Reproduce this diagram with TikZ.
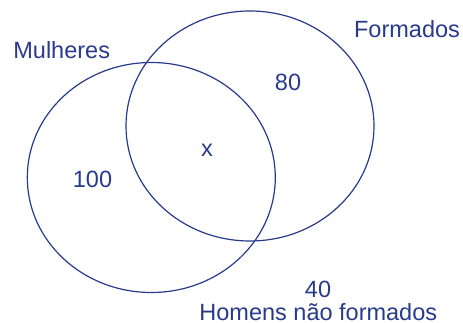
\documentclass[tikz,border=0pt]{standalone}
\usepackage{fontspec}
\setmainfont{Liberation Sans}
\definecolor{vblue}{RGB}{40,58,140}
\begin{document}
\begin{tikzpicture}[x=1pt,y=-1pt,
  lbl/.style={inner sep=0pt,anchor=base,text=vblue,font=\fontsize{23.5}{28}\selectfont},
  setline/.style={draw=vblue,line width=1.2pt}]
\useasboundingbox (0,0) rectangle (463,323);
\draw[setline] (151.3,177.5) ellipse [x radius=124, y radius=115];
\draw[setline] (250,126) ellipse [x radius=124, y radius=115];
\node[lbl] (mul) at (61.7,58.3) {Mulheres};
\node[lbl] (form) at (407,37.3) {Formados};
\node[lbl] (n80) at (288,90.7) {80};
\node[lbl] (nx) at (207,156.7) {x};
\node[lbl] (n100) at (92.5,187.3) {100};
\node[lbl] (n40) at (318,297.5) {40};
\node[lbl] (hom) at (318.3,320) {Homens não formados};
\end{tikzpicture}
\end{document}
